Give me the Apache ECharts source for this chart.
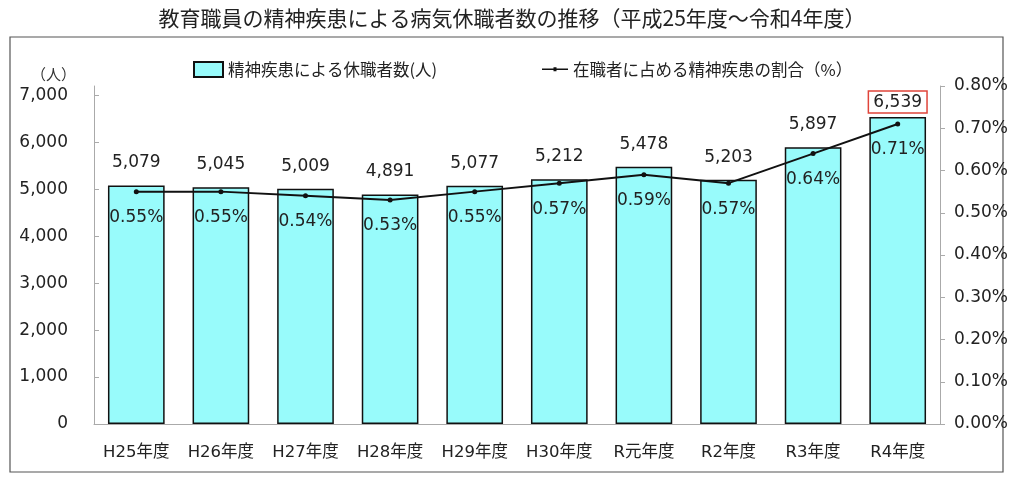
<!DOCTYPE html>
<html><head><meta charset="utf-8">
<script src="https://cdn.jsdelivr.net/npm/echarts@6/dist/echarts.min.js"></script>
<style>html,body{margin:0;padding:0;background:#fff}#c{width:1024px;height:484px}</style>
</head><body><div id="c"></div>
<script>
const categories = ['H25年度','H26年度','H27年度','H28年度','H29年度','H30年度','R元年度','R2年度','R3年度','R4年度'];
const leaveCounts = [5079,5045,5009,4891,5077,5212,5478,5203,5897,6539];
const ratioPct = [0.55,0.55,0.54,0.53,0.55,0.57,0.59,0.57,0.64,0.71];
const leftTicks = [0,1000,2000,3000,4000,5000,6000,7000];
const titleText = '教育職員の精神疾患による病気休職者数の推移（平成25年度～令和4年度）';
const barName = '精神疾患による休職者数(人)';
const lineName = '在職者に占める精神疾患の割合（%）';

const FONT = '"DejaVu Sans", "Noto Sans CJK JP", sans-serif';
const JFONT = '"Noto Sans CJK JP", sans-serif';
const chart = echarts.init(document.getElementById('c'));
const fmt = v => v.toLocaleString('en-US');
const last = leaveCounts.length - 1;

chart.setOption({
  animation: false,
  backgroundColor: '#fff',
  title: { text: titleText, left: 'center', top: 3,
    textStyle: { fontFamily: JFONT, fontSize: 21, fontWeight: 'normal', color: '#222' } },
  graphic: [{ type: 'rect', shape: { x: 10, y: 37, width: 993, height: 435 },
    style: { fill: 'none', stroke: '#555', lineWidth: 1.2 }, silent: true }],
  legend: [
    { data: [{ name: barName, icon: 'rect' }], left: 188, top: 56, itemWidth: 29, itemHeight: 15, itemGap: 4,
      textStyle: { fontFamily: JFONT, fontSize: 16.5, color: '#222' } },
    { data: [{ name: lineName, icon: 'path://M0,4.2 L26,4.2 L26,5.8 L0,5.8 Z M11.5,3 L14.5,3 L14.5,7 L11.5,7 Z' }],
      left: 537, top: 56, itemWidth: 26, itemHeight: 10, itemGap: 4,
      textStyle: { fontFamily: JFONT, fontSize: 16.5, color: '#222' } }
  ],
  grid: { left: 94, right: 84, top: 86, bottom: 60 },
  xAxis: { type: 'category', data: categories,
    axisLine: { lineStyle: { color: '#aaa' } },
    axisTick: { inside: true, length: 5, lineStyle: { color: '#aaa' } },
    axisLabel: { interval: 0, fontFamily: FONT, fontSize: 16.5, color: '#222', margin: 20 } },
  yAxis: [
    { type: 'value', min: 0, max: 7200, interval: 1000, name: '（人）',
      nameLocation: 'end', nameGap: 4,
      nameTextStyle: { fontFamily: JFONT, fontSize: 15, color: '#333', align: 'right', padding: [0, 18, 0, 0] },
      axisLine: { show: true, lineStyle: { color: '#aaa' } },
      axisTick: { show: true, inside: true, length: 5, customValues: leftTicks, lineStyle: { color: '#aaa' } },
      splitLine: { show: false },
      axisLabel: { customValues: leftTicks, formatter: v => fmt(v), fontFamily: FONT, fontSize: 17, color: '#222', margin: 26 } },
    { type: 'value', min: 0, max: 0.8, interval: 0.1, position: 'right',
      axisLine: { show: true, lineStyle: { color: '#aaa' } },
      axisTick: { show: true, length: 5, lineStyle: { color: '#aaa' } },
      splitLine: { show: false },
      axisLabel: { formatter: v => v.toFixed(2) + '%', fontFamily: FONT, fontSize: 17, color: '#222', margin: 14 } }
  ],
  series: [
    { name: barName, type: 'bar', yAxisIndex: 0, barWidth: '67%',
      itemStyle: { color: '#98fbfb', borderColor: '#111', borderWidth: 1.5 },
      data: leaveCounts.map((v, i) => i === last ? {
        value: v,
        label: { borderColor: '#e0443a', borderWidth: 1.5, padding: [3, 5, 2, 5], distance: 4 }
      } : v),
      label: { show: true, position: 'top', distance: 14, formatter: p => fmt(p.value),
        fontFamily: FONT, fontSize: 17, color: '#222' } },
    { name: lineName, type: 'line', yAxisIndex: 1, z: 5,
      data: ratioPct, symbol: 'circle', symbolSize: 5,
      lineStyle: { color: '#111', width: 2 }, itemStyle: { color: '#111' },
      label: { show: true, position: 'bottom', distance: 15, formatter: p => p.value.toFixed(2) + '%',
        fontFamily: FONT, fontSize: 17, color: '#222' } }
  ]
});
</script></body></html>
